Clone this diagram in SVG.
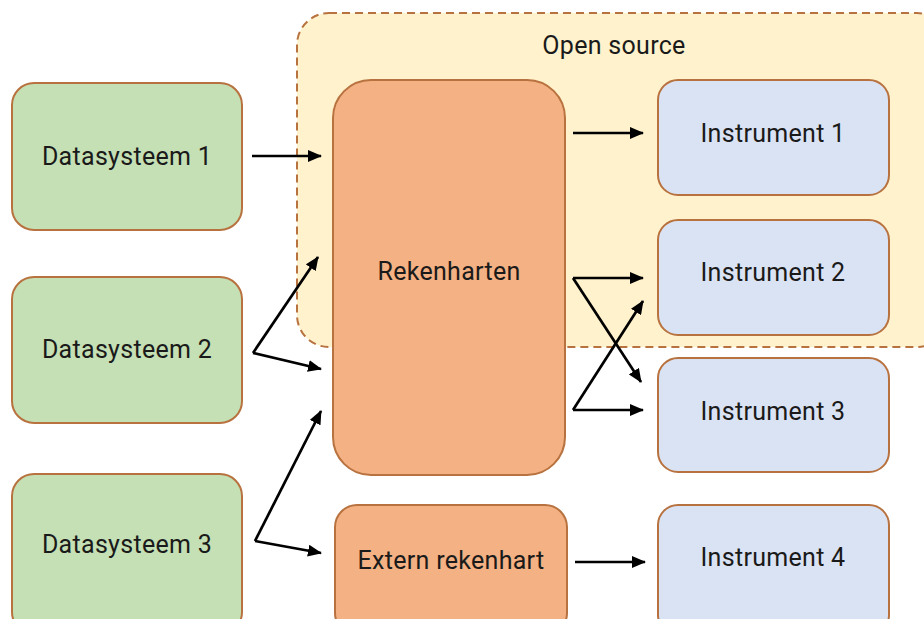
<svg xmlns="http://www.w3.org/2000/svg" width="924" height="619" viewBox="0 0 924 619">
<defs>
<style>
.box{stroke:#b8723f;stroke-width:2}
.ds{fill:#c5e0b4}
.ins{fill:#dae3f3}
.rk{fill:#f4b183}
.lbl{font-family:Roboto,"Liberation Sans",sans-serif;font-size:25px;letter-spacing:0.3px;fill:#1a1a1a;text-anchor:middle;dominant-baseline:central}
.con{fill:none;stroke:#000;stroke-width:2.7;marker-end:url(#ah)}
</style>
<marker id="ah" viewBox="0 0 14 12" refX="13" refY="6" markerWidth="14" markerHeight="12" markerUnits="userSpaceOnUse" orient="auto">
<path d="M0,0 L14,6 L0,12 Z" fill="#000"/>
</marker>
</defs>
<rect width="924" height="619" fill="#fff"/>
<g id="opensource">
<rect x="297" y="13" width="652" height="334" rx="32" fill="#fff2cc" stroke="#b8723f" stroke-width="2" stroke-dasharray="8,5"/>
<text class="lbl" x="614" y="45">Open source</text>
</g>
<g id="datasysteem1"><rect class="box ds" x="12" y="83" width="230" height="147" rx="22"/><text class="lbl" x="127" y="156">Datasysteem 1</text></g>
<g id="datasysteem2"><rect class="box ds" x="12" y="277" width="230" height="146" rx="22"/><text class="lbl" x="127" y="349">Datasysteem 2</text></g>
<g id="datasysteem3"><rect class="box ds" x="12" y="474" width="230" height="160" rx="22"/><text class="lbl" x="127" y="544">Datasysteem 3</text></g>
<g id="rekenharten"><rect class="box rk" x="333" y="80" width="232" height="395" rx="38"/><text class="lbl" x="449" y="271">Rekenharten</text></g>
<g id="extern"><rect class="box rk" x="335" y="505" width="232" height="130" rx="22"/><text class="lbl" x="451" y="560">Extern rekenhart</text></g>
<g id="instrument1"><rect class="box ins" x="658" y="80" width="231" height="115" rx="20"/><text class="lbl" x="773" y="133">Instrument 1</text></g>
<g id="instrument2"><rect class="box ins" x="658" y="220" width="231" height="115" rx="20"/><text class="lbl" x="773" y="272">Instrument 2</text></g>
<g id="instrument3"><rect class="box ins" x="658" y="358" width="231" height="114" rx="20"/><text class="lbl" x="773" y="411">Instrument 3</text></g>
<g id="instrument4"><rect class="box ins" x="658" y="505" width="231" height="130" rx="20"/><text class="lbl" x="773" y="557">Instrument 4</text></g>
<g id="connectors">
<path class="con" d="M252,156 L321,156"/>
<path class="con" d="M253,353 L318,257"/>
<path class="con" d="M253,353 L321,369"/>
<path class="con" d="M255,541 L321,411"/>
<path class="con" d="M255,541 L321,553"/>
<path class="con" d="M573,133 L643,133"/>
<path class="con" d="M573,278 L643,278"/>
<path class="con" d="M573,278 L641,382"/>
<path class="con" d="M573,410 L643,410"/>
<path class="con" d="M573,410 L643,301"/>
<path class="con" d="M575,562 L645,562"/>
</g>
</svg>
